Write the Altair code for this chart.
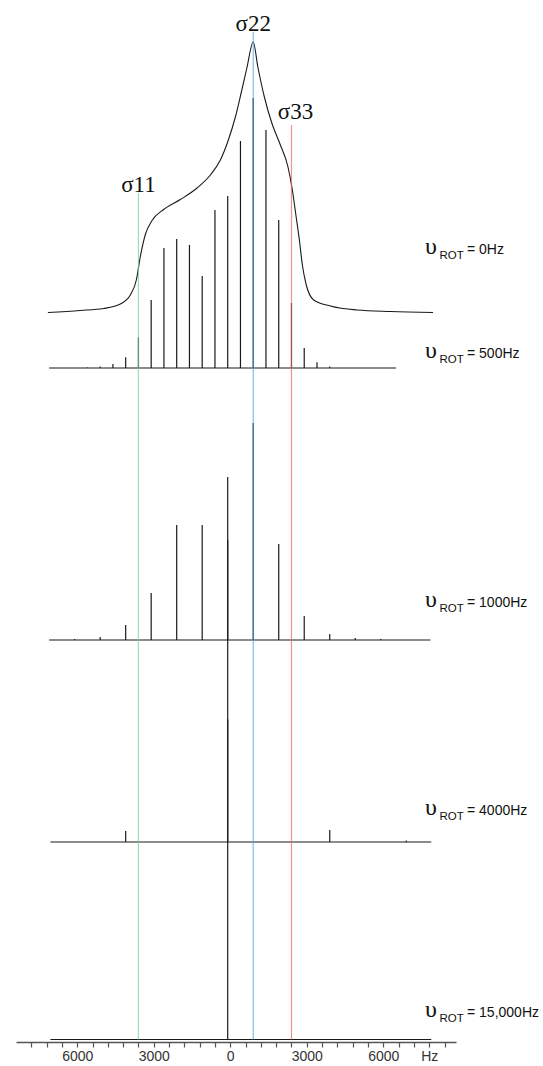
import altair as alt
import pandas as pd

# ---------------- data ----------------
# static powder pattern, nu_ROT = 0 Hz  (frequency in Hz, intensity)
static_hz = [-7150, -5880, -4965, -4310, -3918, -3682, -3525, -3329, -3067, -2612,
             -1957, -1302, -780, -388, -75, 200, 435, 651, 900, 1082, 1337, 1635,
             1965, 2259, 2435, 2573, 2710, 2827, 2965, 3271, 3925, 4973, 6278, 7950]
static_int = [0, 2, 4, 8.5, 17.5, 32.5, 56, 78, 92, 103,
              113, 124.5, 137.5, 152.5, 172.5, 195.5, 220.5, 244.5, 270.5, 245.5, 215.5, 189,
              167.5, 146, 122.5, 97.5, 72.5, 47.5, 29, 12.5, 6.5, 2.5, 1, 0]

# spinning sideband spectra: peak positions (Hz) and heights
p500 = [-5600, -5100, -4600, -4100, -3600, -3100, -2600, -2100, -1600, -1100,
        -600, -100, 400, 900, 1400, 1900, 2400, 2900, 3400, 3900]
h500 = [0.5, 1.5, 4, 10.7, 30.7, 68, 120, 129, 123, 92,
        158, 172, 227, 270, 238, 148, 65, 20, 5.7, 1.5]

p1000 = [-6100, -5100, -4100, -3100, -2100, -1100, -100, 900, 1900, 2900, 3900, 4900, 5900]
h1000 = [1, 3, 15, 47, 115, 115, 163, 217, 96, 24, 6, 2, 1]

p4000 = [-4100, -100, 3900, 6900]
h4000 = [11, 302, 12, 1.5]

p15000 = [-100]
h15000 = [320]

# spectrum names, vertical offsets, frequency extent of each trace
spec_names = ["0Hz", "500Hz", "1000Hz", "4000Hz", "15,000Hz"]
spec_offset = [729.5, 674, 402, 200, 2.5]
spec_start = [-7150, -7100, -7100, -7050, -7050]
spec_end = [7950, 6500, 7850, 7880, 7880]

# principal tensor components
sigma_names = ["σ11", "σ22", "σ33"]
sigma_hz = [-3600, 900, 2400]
sigma_top = [849, 1010, 917]
sigma_colors = ["#77cd8d", "#4ca2db", "#ec6464"]

tick_values = list(range(-7800, 8401, 600))

# ---------------- tables ----------------
peaks = []
for name, off, ps, hs in zip(spec_names[1:], spec_offset[1:],
                             [p500, p1000, p4000, p15000],
                             [h500, h1000, h4000, h15000]):
    for p, h in zip(ps, hs):
        peaks.append({"spec": name, "hz": p, "yv": off, "y2": off + h})
peaks = pd.DataFrame(peaks)

static_df = pd.DataFrame({"hz": static_hz,
                          "yv": [spec_offset[0] + v for v in static_int]})

base_df = pd.DataFrame({"spec": spec_names[1:], "hz": spec_start[1:],
                        "hz2": spec_end[1:], "yv": spec_offset[1:]})

sig_df = pd.DataFrame({"name": sigma_names, "hz": sigma_hz,
                       "yv": [spec_offset[-1]] * 3, "y2": sigma_top,
                       "ylab": [t + 1 for t in sigma_top]})

lab_df = pd.DataFrame({"spec": spec_names,
                       "yv": [o + d for o, d in zip(spec_offset, [59, 10, 33, 27, 22.5])],
                       "txt": ["= " + s for s in spec_names]})

W, H = 440, 1042
xscale = alt.Scale(domain=[-8400, 8850], nice=False, zero=False)
yscale = alt.Scale(domain=[0, H], nice=False, zero=False)
xaxis = alt.Axis(values=tick_values,
                 labelExpr="datum.value == 7800 ? 'Hz' : (datum.value % 3000 == 0 ? format(abs(datum.value), 'd') : '')",
                 grid=False, title=None, domainColor="#555555", domainWidth=1.6,
                 tickColor="#555555", tickWidth=1.2, tickSize=5,
                 labelFont="Liberation Sans", labelFontSize=14, labelColor="#333333",
                 labelPadding=2, labelFlush=False, labelOverlap=False)


def X(field="hz"):
    return alt.X(f"{field}:Q", scale=xscale, axis=xaxis)


def Y(field="yv"):
    return alt.Y(f"{field}:Q", scale=yscale, axis=None)


ink = "#1a1a1a"

static_line = alt.Chart(static_df).mark_line(
    interpolate="monotone", color=ink, strokeWidth=1.1
).encode(x=X(), y=Y())

baselines = alt.Chart(base_df).mark_rule(color=ink, strokeWidth=1.1).encode(
    x=X(), x2="hz2:Q", y=Y())

sticks = alt.Chart(peaks).mark_rule(color=ink, strokeWidth=1.2).encode(
    x=X(), y=Y(), y2="y2:Q")

sig_lines = alt.Chart(sig_df).mark_rule(strokeWidth=1.2, opacity=0.7).encode(
    x=X(), y=Y(), y2="y2:Q",
    color=alt.Color("name:N", scale=alt.Scale(domain=sigma_names, range=sigma_colors),
                    legend=None))

sig_text = alt.Chart(sig_df).transform_filter(
    alt.datum.name != "σ33"
).mark_text(
    font="Liberation Serif", fontSize=23, baseline="alphabetic", align="center",
    color="#111111"
).encode(x=X(), y=Y("ylab"), text="name:N")

sig_text33 = alt.Chart(sig_df).transform_filter(
    alt.datum.name == "σ33"
).mark_text(
    font="Liberation Serif", fontSize=23, baseline="alphabetic", align="center",
    color="#111111", dx=4, dy=-5
).encode(x=X(), y=Y("ylab"), text="name:N")

ups = alt.Chart(lab_df).mark_text(
    font="Liberation Serif", fontSize=24, baseline="alphabetic", align="left",
    color="#111111"
).encode(x=alt.value(409), y=Y(), text=alt.value("υ"))

rot = alt.Chart(lab_df).mark_text(
    font="Liberation Sans", fontSize=11.5, baseline="alphabetic", align="left",
    dy=5, color="#111111"
).encode(x=alt.value(423.5), y=Y(), text=alt.value("ROT"))

eq = alt.Chart(lab_df).mark_text(
    font="Liberation Sans", fontSize=14, baseline="alphabetic", align="left",
    color="#111111"
).encode(x=alt.value(451), y=Y(), text="txt:N")

chart = alt.layer(
    static_line, baselines, sticks, sig_lines, sig_text, sig_text33, ups, rot, eq
).properties(
    width=W, height=H,
    autosize=alt.AutoSizeParams(type="none"),
    padding={"left": 16, "top": 0, "right": 87, "bottom": 24},
    background="white",
).configure_view(stroke=None)

chart.save("out.html", embed_options={"renderer": "svg", "actions": False})
